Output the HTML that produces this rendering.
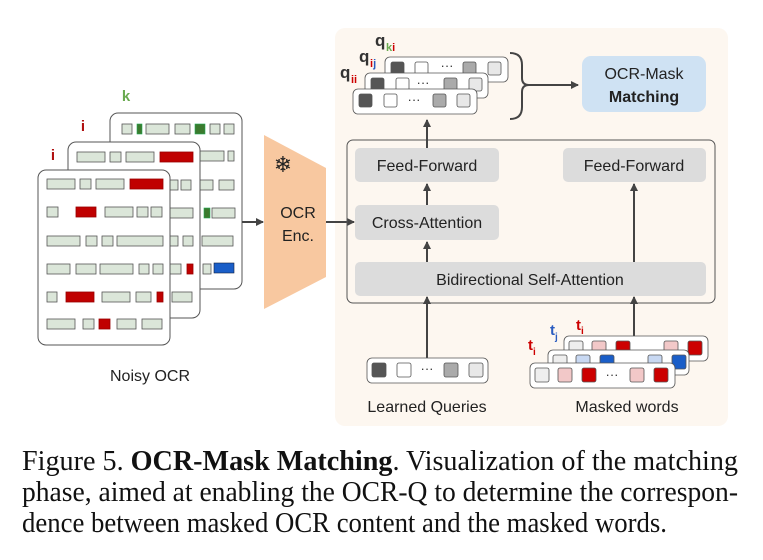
<!DOCTYPE html>
<html><head><meta charset="utf-8"><style>
html,body{margin:0;padding:0;background:#fff}
svg{display:block}
.s{font-family:"Liberation Sans",sans-serif}
.t{font-family:"Liberation Serif",serif}
.g{fill:#dbe6d9;stroke:#555;stroke-width:0.8}
.r{fill:#c00000;stroke:#900;stroke-width:0.8}
.gr{fill:#3b7a2e;stroke:#2a5;stroke-width:0.6}
.bl{fill:#1a5ec8;stroke:#124;stroke-width:0.6}
.pg{fill:#fff;stroke:#555;stroke-width:1}
</style></head><body>
<svg width="763" height="560" viewBox="0 0 763 560" xmlns="http://www.w3.org/2000/svg">
<defs><marker id="a" markerWidth="8" markerHeight="8" refX="7" refY="4" orient="auto" markerUnits="userSpaceOnUse"><path d="M0,0 L8,4 L0,8 z" fill="#444"/></marker></defs>

<rect x="335" y="28" width="393" height="398" rx="10" fill="#fdf7f0"/>

<rect class="pg" x="110" y="113" width="132" height="176" rx="8"/>
<g>
<rect class="g" x="122" y="124" width="10" height="10"/><rect class="gr" x="137" y="124" width="5" height="10"/><rect class="g" x="146" y="124" width="23" height="10"/><rect class="g" x="175" y="124" width="15" height="10"/><rect class="gr" x="195" y="124" width="10" height="10"/><rect class="g" x="210" y="124" width="10" height="10"/><rect class="g" x="224" y="124" width="10" height="10"/>
<rect class="g" x="200" y="151" width="24" height="10"/><rect class="g" x="228" y="151" width="6" height="10"/>
<rect class="g" x="200" y="180" width="13" height="10"/><rect class="g" x="219" y="180" width="15" height="10"/>
<rect class="gr" x="204" y="208" width="6" height="10"/><rect class="g" x="212" y="208" width="23" height="10"/>
<rect class="g" x="202" y="236" width="31" height="10"/>
<rect class="g" x="203" y="264" width="8" height="10"/><rect class="bl" x="214" y="263" width="20" height="10"/>
</g>
<rect class="pg" x="68" y="142" width="132" height="176" rx="8"/>
<g>
<rect class="g" x="77" y="152" width="28" height="10"/><rect class="g" x="110" y="152" width="11" height="10"/><rect class="g" x="126" y="152" width="28" height="10"/><rect class="r" x="160" y="152" width="33" height="10"/>
<rect class="g" x="170" y="180" width="8" height="10"/><rect class="g" x="181" y="180" width="10" height="10"/>
<rect class="g" x="170" y="208" width="23" height="10"/>
<rect class="g" x="170" y="236" width="8" height="10"/><rect class="g" x="183" y="236" width="10" height="10"/>
<rect class="g" x="170" y="264" width="11" height="10"/><rect class="r" x="187" y="264" width="6" height="10"/>
<rect class="g" x="172" y="292" width="20" height="10"/>
</g>
<rect class="pg" x="38" y="170" width="132" height="175" rx="8"/>
<g>
<rect class="g" x="47" y="179" width="28" height="10"/><rect class="g" x="80" y="179" width="11" height="10"/><rect class="g" x="96" y="179" width="28" height="10"/><rect class="r" x="130" y="179" width="33" height="10"/>
<rect class="g" x="47" y="207" width="11" height="10"/><rect class="r" x="76" y="207" width="20" height="10"/><rect class="g" x="105" y="207" width="28" height="10"/><rect class="g" x="137" y="207" width="11" height="10"/><rect class="g" x="151" y="207" width="11" height="10"/>
<rect class="g" x="47" y="236" width="33" height="10"/><rect class="g" x="86" y="236" width="11" height="10"/><rect class="g" x="102" y="236" width="11" height="10"/><rect class="g" x="117" y="236" width="46" height="10"/>
<rect class="g" x="47" y="264" width="23" height="10"/><rect class="g" x="76" y="264" width="20" height="10"/><rect class="g" x="100" y="264" width="33" height="10"/><rect class="g" x="139" y="264" width="10" height="10"/><rect class="g" x="153" y="264" width="10" height="10"/>
<rect class="g" x="47" y="292" width="10" height="10"/><rect class="r" x="66" y="292" width="28" height="10"/><rect class="g" x="102" y="292" width="28" height="10"/><rect class="g" x="136" y="292" width="15" height="10"/><rect class="r" x="157" y="292" width="6" height="10"/>
<rect class="g" x="47" y="319" width="28" height="10"/><rect class="g" x="83" y="319" width="11" height="10"/><rect class="r" x="99" y="319" width="11" height="10"/><rect class="g" x="117" y="319" width="19" height="10"/><rect class="g" x="142" y="319" width="20" height="10"/>
</g>
<text class="s" x="126" y="101" font-size="15" font-weight="bold" fill="#6aaa50" text-anchor="middle">k</text>
<text class="s" x="83" y="131" font-size="15" font-weight="bold" fill="#b01010" text-anchor="middle">i</text>
<text class="s" x="53" y="160" font-size="15" font-weight="bold" fill="#b01010" text-anchor="middle">i</text>
<text class="s" x="150" y="381" font-size="16" fill="#222" text-anchor="middle">Noisy OCR</text>

<line x1="242" y1="222" x2="263" y2="222" stroke="#444" stroke-width="2" marker-end="url(#a)"/>
<polygon points="264,135 326,168 326,277 264,309" fill="#f8c8a0"/>
<text x="283" y="172" font-size="22" fill="#222" text-anchor="middle" font-family="DejaVu Sans,sans-serif">❄</text>
<text class="s" x="298" y="218" font-size="16" fill="#222" text-anchor="middle">OCR</text>
<text class="s" x="298" y="241" font-size="16" fill="#222" text-anchor="middle">Enc.</text>
<line x1="326" y1="222" x2="354" y2="222" stroke="#444" stroke-width="2" marker-end="url(#a)"/>

<rect x="347" y="140" width="368" height="163" rx="6" fill="none" stroke="#555" stroke-width="1"/>
<rect x="355" y="148" width="144" height="34" rx="5" fill="#dcdcdc"/>
<text class="s" x="427" y="171" font-size="16" fill="#222" text-anchor="middle">Feed-Forward</text>
<rect x="563" y="148" width="143" height="34" rx="5" fill="#dcdcdc"/>
<text class="s" x="634" y="171" font-size="16" fill="#222" text-anchor="middle">Feed-Forward</text>
<rect x="355" y="205" width="144" height="35" rx="5" fill="#dcdcdc"/>
<text class="s" x="427" y="228" font-size="16" fill="#222" text-anchor="middle">Cross-Attention</text>
<rect x="355" y="262" width="351" height="34" rx="5" fill="#dcdcdc"/>
<text class="s" x="530" y="285" font-size="16" fill="#222" text-anchor="middle">Bidirectional Self-Attention</text>
<line x1="427" y1="262" x2="427" y2="242" stroke="#444" stroke-width="2" marker-end="url(#a)"/>
<line x1="427" y1="205" x2="427" y2="184" stroke="#444" stroke-width="2" marker-end="url(#a)"/>
<line x1="634" y1="262" x2="634" y2="184" stroke="#444" stroke-width="2" marker-end="url(#a)"/>
<line x1="427" y1="148" x2="427" y2="120" stroke="#444" stroke-width="2" marker-end="url(#a)"/>
<line x1="427" y1="358" x2="427" y2="297" stroke="#444" stroke-width="2" marker-end="url(#a)"/>
<line x1="634" y1="336" x2="634" y2="297" stroke="#444" stroke-width="2" marker-end="url(#a)"/>

<g stroke="#555" stroke-width="0.8">
<rect x="385" y="57" width="123" height="25" rx="5" fill="#fff"/>
<rect x="391" y="62" width="13" height="13" rx="2" fill="#555"/><rect x="415" y="62" width="13" height="13" rx="2" fill="#fff"/><rect x="463" y="62" width="13" height="13" rx="2" fill="#aaa"/><rect x="488" y="62" width="13" height="13" rx="2" fill="#e8e8e8"/>
<rect x="365" y="73" width="123" height="25" rx="5" fill="#fff"/>
<rect x="371" y="78" width="13" height="13" rx="2" fill="#555"/><rect x="396" y="78" width="13" height="13" rx="2" fill="#fff"/><rect x="444" y="78" width="13" height="13" rx="2" fill="#aaa"/><rect x="469" y="78" width="13" height="13" rx="2" fill="#e8e8e8"/>
<rect x="353" y="89" width="124" height="25" rx="5" fill="#fff"/>
<rect x="359" y="94" width="13" height="13" rx="2" fill="#555"/><rect x="384" y="94" width="13" height="13" rx="2" fill="#fff"/><rect x="433" y="94" width="13" height="13" rx="2" fill="#aaa"/><rect x="457" y="94" width="13" height="13" rx="2" fill="#e8e8e8"/>
</g>
<text class="s" x="447" y="70" font-size="13" fill="#333" text-anchor="middle">···</text>
<text class="s" x="423" y="87" font-size="13" fill="#333" text-anchor="middle">···</text>
<text class="s" x="414" y="104" font-size="13" fill="#333" text-anchor="middle">···</text>
<text class="s" x="340" y="78" font-size="17" font-weight="bold" fill="#333">q</text><text class="s" x="351" y="83" font-size="11" font-weight="bold" fill="#c00">ii</text>
<text class="s" x="359" y="62" font-size="17" font-weight="bold" fill="#333">q</text><text class="s" x="370" y="67" font-size="11" font-weight="bold"><tspan fill="#c00">i</tspan><tspan fill="#2a5cc0">j</tspan></text>
<text class="s" x="375" y="46" font-size="17" font-weight="bold" fill="#333">q</text><text class="s" x="386" y="51" font-size="11" font-weight="bold"><tspan fill="#6aaa50">k</tspan><tspan fill="#c00">i</tspan></text>
<path d="M510,53 Q522,53 522,65 L522,78 Q522,85 529,85 Q522,85 522,92 L522,107 Q522,119 510,119" fill="none" stroke="#444" stroke-width="2"/>
<line x1="529" y1="85" x2="578" y2="85" stroke="#444" stroke-width="2" marker-end="url(#a)"/>
<rect x="582" y="56" width="124" height="56" rx="9" fill="#cfe2f3"/>
<text class="s" x="644" y="79" font-size="16" fill="#222" text-anchor="middle">OCR-Mask</text>
<text class="s" x="644" y="102" font-size="16" font-weight="bold" fill="#222" text-anchor="middle">Matching</text>

<g stroke="#555" stroke-width="0.8">
<rect x="367" y="358" width="121" height="25" rx="5" fill="#fff"/>
<rect x="372" y="363" width="14" height="14" rx="2" fill="#555"/><rect x="397" y="363" width="14" height="14" rx="2" fill="#fff"/><rect x="444" y="363" width="14" height="14" rx="2" fill="#aaa"/><rect x="469" y="363" width="14" height="14" rx="2" fill="#e8e8e8"/>
</g>
<text class="s" x="427" y="373" font-size="13" fill="#333" text-anchor="middle">···</text>
<text class="s" x="427" y="412" font-size="16" fill="#222" text-anchor="middle">Learned Queries</text>

<g stroke="#555" stroke-width="0.8">
<rect x="564" y="336" width="144" height="25" rx="5" fill="#fff"/>
<rect x="569" y="341" width="14" height="14" rx="2" fill="#eee"/><rect x="592" y="341" width="14" height="14" rx="2" fill="#f2c8c8"/><rect x="616" y="341" width="14" height="14" rx="2" fill="#c00"/><rect x="664" y="341" width="14" height="14" rx="2" fill="#f2c8c8"/><rect x="688" y="341" width="14" height="14" rx="2" fill="#c00"/>
<rect x="548" y="350" width="141" height="25" rx="5" fill="#fff"/>
<rect x="553" y="355" width="14" height="14" rx="2" fill="#eee"/><rect x="576" y="355" width="14" height="14" rx="2" fill="#c8d8f2"/><rect x="600" y="355" width="14" height="14" rx="2" fill="#1a5ec8"/><rect x="648" y="355" width="14" height="14" rx="2" fill="#c8d8f2"/><rect x="672" y="355" width="14" height="14" rx="2" fill="#1a5ec8"/>
<rect x="530" y="363" width="145" height="25" rx="5" fill="#fff"/>
<rect x="535" y="368" width="14" height="14" rx="2" fill="#eee"/><rect x="558" y="368" width="14" height="14" rx="2" fill="#f2c8c8"/><rect x="582" y="368" width="14" height="14" rx="2" fill="#c00"/><rect x="630" y="368" width="14" height="14" rx="2" fill="#f2c8c8"/><rect x="654" y="368" width="14" height="14" rx="2" fill="#c00"/>
</g>
<text class="s" x="612" y="379" font-size="13" fill="#333" text-anchor="middle">···</text>
<text class="s" x="576" y="330" font-size="15" font-weight="bold" fill="#c00">t</text><text class="s" x="581" y="334" font-size="10" font-weight="bold" fill="#c00">i</text>
<text class="s" x="550" y="335" font-size="15" font-weight="bold" fill="#2a5cc0">t</text><text class="s" x="555" y="340" font-size="10" font-weight="bold" fill="#2a5cc0">j</text>
<text class="s" x="528" y="350" font-size="15" font-weight="bold" fill="#c00">t</text><text class="s" x="533" y="355" font-size="10" font-weight="bold" fill="#c00">i</text>
<text class="s" x="627" y="412" font-size="16" fill="#222" text-anchor="middle">Masked words</text>

<g class="t" font-size="28" fill="#111">
<text x="22" y="470" textLength="716" lengthAdjust="spacingAndGlyphs">Figure 5.  <tspan font-weight="bold">OCR-Mask Matching</tspan>.  Visualization of the matching</text>
<text x="22" y="501" textLength="716" lengthAdjust="spacingAndGlyphs">phase, aimed at enabling the OCR-Q to determine the correspon-</text>
<text x="22" y="532" textLength="645" lengthAdjust="spacingAndGlyphs">dence between masked OCR content and the masked words.</text>
</g>
</svg>
</body></html>
